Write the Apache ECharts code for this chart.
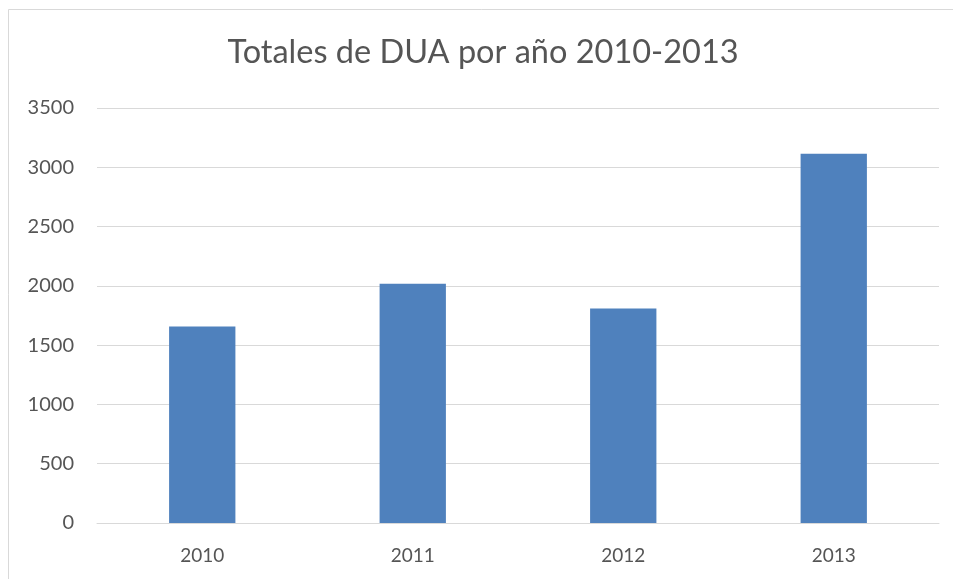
<!DOCTYPE html>
<html>
<head>
<meta charset="utf-8">
<script src="https://cdn.jsdelivr.net/npm/echarts@6/dist/echarts.min.js"></script>
<style>
  html, body { margin: 0; padding: 0; background: #ffffff; }
  #chart { width: 953px; height: 579px; }
</style>
</head>
<body>
<div id="chart"></div>
<script>
// Annual DUA totals
const years = ['2010', '2011', '2012', '2013'];
const totals = [1658, 2018, 1810, 3115];
const yTicks = { min: 0, max: 3500, step: 500 };
const titleText = 'Totales de DUA por año 2010-2013';

const chart = echarts.init(document.getElementById('chart'), null, { renderer: 'canvas' });

chart.setOption({
  backgroundColor: '#ffffff',
  animation: false,
  title: {
    text: titleText,
    left: 478,
    textAlign: 'center',
    top: 31,
    textStyle: {
      fontFamily: 'Lato, "Open Sans", sans-serif',
      fontWeight: 'normal',
      fontSize: 32.5,
      color: '#555555'
    }
  },
  graphic: [{
    type: 'rect',
    shape: { x: 8.5, y: 9.5, width: 980, height: 620 },
    style: { fill: 'none', stroke: '#d9d9d9', lineWidth: 1 },
    silent: true
  }],
  grid: {
    left: 97,
    right: 14,
    top: 108,
    bottom: 56
  },
  xAxis: {
    type: 'category',
    data: years,
    axisLine: { show: true, lineStyle: { color: '#d9d9d9', width: 1 } },
    axisTick: { show: false },
    axisLabel: {
      margin: 23,
      fontFamily: 'Lato, "Open Sans", sans-serif',
      fontSize: 19,
      color: '#555555'
    }
  },
  yAxis: {
    type: 'value',
    min: yTicks.min,
    max: yTicks.max,
    interval: yTicks.step,
    axisLine: { show: false },
    axisTick: { show: false },
    splitLine: { lineStyle: { color: '#d9d9d9', width: 1 } },
    axisLabel: {
      margin: 23,
      formatter: (v) => String(v),
      fontFamily: 'Lato, "Open Sans", sans-serif',
      fontSize: 20,
      color: '#555555'
    }
  },
  series: [{
    type: 'bar',
    data: totals,
    barWidth: '31.5%',
    itemStyle: { color: '#4f81bd' }
  }]
});
</script>
</body>
</html>
